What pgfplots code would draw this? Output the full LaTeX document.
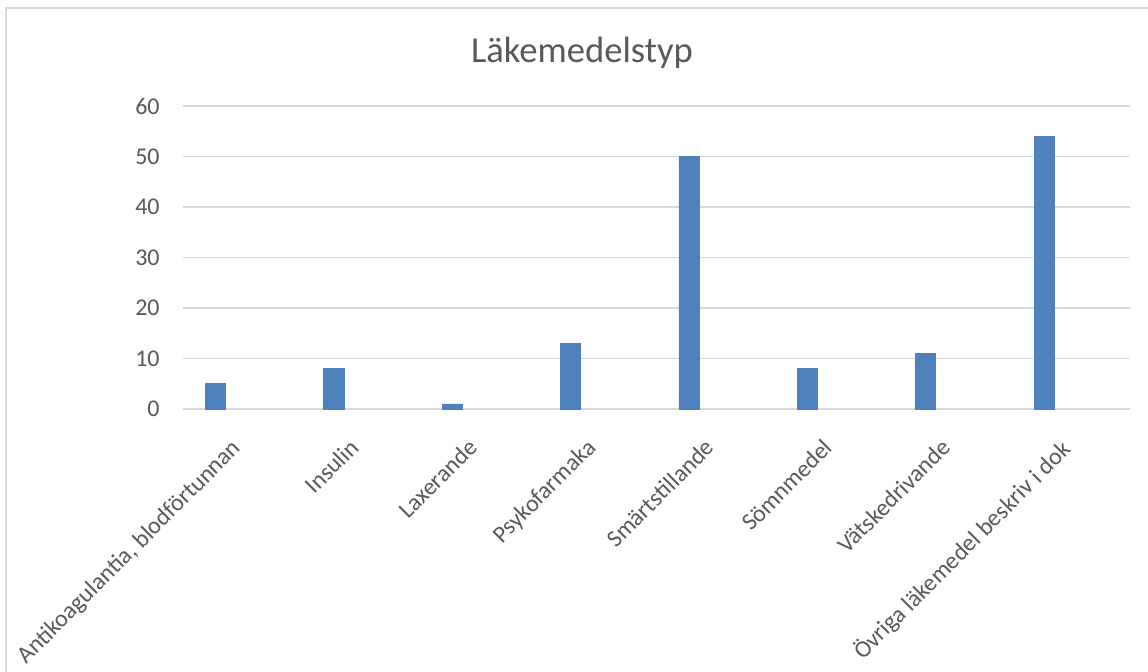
\documentclass[border=0pt]{standalone}
\usepackage{pgfplots}
\pgfplotsset{compat=1.18}
\usepackage{fontspec}
\setmainfont{Carlito}

\definecolor{txt}{HTML}{595959}
\definecolor{gridc}{HTML}{D9D9D9}
\definecolor{barc}{HTML}{4F81BD}

\begin{document}
\begin{tikzpicture}
\useasboundingbox (0,0) rectangle (574pt,336pt);
\fill[white] (0,0) rectangle (574pt,336pt);
\draw[gridc, line width=0.8pt] (3pt,-5pt) rectangle (580pt,332pt);

\node[anchor=base, text=txt, font=\fontsize{18.3}{22}\selectfont] at (291pt,304.5pt) {Läkemedelstyp};

\begin{axis}[
    at={(91.5pt,131.5pt)}, anchor=south west,
    scale only axis,
    width=473.5pt, height=151.5pt,
    xmin=-0.5, xmax=7.5,
    ymin=0, ymax=60,
    ytick={0,10,...,60},
    xtick={0,...,7},
    xticklabels={{Antikoagulantia, blodförtunnan}, Insulin, Laxerande, Psykofarmaka, Smärtstillande, Sömnmedel, Vätskedrivande, Övriga läkemedel beskriv i dok},
    axis line style={draw=none},
    tick style={draw=none},
    major tick length=0pt,
    ymajorgrids,
    major grid style={gridc, line width=0.9pt},
    ticklabel style={text=txt, font=\fontsize{12}{14}\selectfont},
    /pgf/number format/assume math mode=true,
    yticklabel style={inner sep=0pt, anchor=east, xshift=-11.5pt},
    xticklabel style={xshift=-6pt, yshift=-2pt, rotate=45, anchor=north east, inner sep=0pt},
    xticklabel shift=12pt,
    clip=false,
]
\addplot[ybar, bar width=0.17, bar shift=-0.225, fill=barc, draw=barc] coordinates {
    (0,5) (1,8) (2,1) (3,13) (4,50) (5,8) (6,11) (7,54)
};
\end{axis}
\end{tikzpicture}
\end{document}
